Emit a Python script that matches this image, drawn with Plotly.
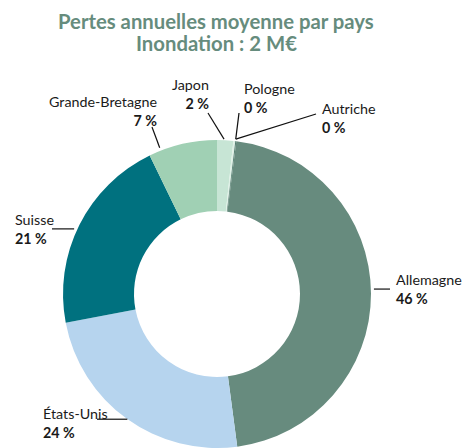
import plotly.graph_objects as go
import math

# ---- data ----
countries = ["Japon", "Pologne", "Autriche", "Allemagne", "États-Unis", "Suisse", "Grande-Bretagne"]
shares = [1.7, 0.2, 0.1, 45.9, 24.1, 20.8, 7.2]
pct_labels = ["2 %", "0 %", "0 %", "46 %", "24 %", "21 %", "7 %"]
colors = ["#C7E5D5", "#DDEFE5", "#4E7A6C", "#678B7E", "#B6D4EE", "#00717F", "#A0D0B4"]
title_lines = ["Pertes annuelles moyenne par pays", "Inondation : 2 M€"]

W, H = 464, 448
CX, CY, R = 217, 294, 154
HOLE_R = 83

def px(x):
    return x / W

def py(y):
    return 1 - y / H

fig = go.Figure()
fig.add_trace(go.Pie(
    labels=countries,
    values=shares,
    sort=False,
    direction="clockwise",
    rotation=0,
    hole=HOLE_R / R,
    marker=dict(colors=colors, line=dict(width=0)),
    textinfo="none",
    hoverinfo="label+percent",
    showlegend=False,
    domain=dict(x=[px(CX - R), px(CX + R)], y=[0, py(CY - R)]),
))

# label layout: angle of leader start (deg), radial offset, end point px, text anchor px, xanchor
label_layout = {
    "Japon":           dict(ang=2.6,   off=1, end=(208, 113), txt=(211, 94),  xa="right"),
    "Pologne":         dict(ang=6.9,   off=2, end=(239, 113), txt=(242, 98),  xa="left"),
    "Autriche":        dict(ang=6.9,   off=2, end=(316, 114), txt=(320, 118), xa="left"),
    "Allemagne":       dict(ang=88.2,  off=3, end=(390, None), txt=(394, 289), xa="left"),
    "États-Unis":      dict(ang=215.6, off=0, end=(97, None), txt=(41, 423),  xa="left"),
    "Suisse":          dict(ang=294.5, off=3, end=(52, None), txt=(13, 229),  xa="left"),
    "Grande-Bretagne": dict(ang=338.6, off=3, end=(152, 127), txt=(159, 111), xa="right"),
}

shapes = []
annotations = []
for name, pct in zip(countries, pct_labels):
    L = label_layout[name]
    a = math.radians(L["ang"])
    r = R + L["off"]
    x0 = CX + r * math.sin(a)
    y0 = CY - r * math.cos(a)
    ex, ey = L["end"]
    if ey is None:
        ey = y0
    shapes.append(dict(type="line", xref="paper", yref="paper",
                       x0=px(x0), y0=py(y0), x1=px(ex), y1=py(ey),
                       line=dict(color="#111111", width=1.2)))
    tx, ty = L["txt"]
    annotations.append(dict(
        xref="paper", yref="paper", x=px(tx), y=py(ty),
        xanchor=L["xa"], yanchor="middle", align=L["xa"],
        text=f"{name}<br><b>{pct}</b>", showarrow=False,
        font=dict(family="Lato", size=14.3, color="#1a1a1a"),
    ))

for line, ty in zip(title_lines, [21, 43]):
    annotations.append(dict(
        xref="paper", yref="paper", x=px(216), y=py(ty),
        xanchor="center", yanchor="middle", showarrow=False,
        text=f"<b>{line}</b>",
        font=dict(family="Lato", size=20.3, color="#668C7D"),
    ))

fig.update_layout(
    width=W, height=H,
    margin=dict(l=0, r=0, t=0, b=0),
    paper_bgcolor="white", plot_bgcolor="white",
    shapes=shapes,
    annotations=annotations,
)

fig.write_html("out.html", config={"displayModeBar": False},
               post_script="document.body.style.margin='0';")
